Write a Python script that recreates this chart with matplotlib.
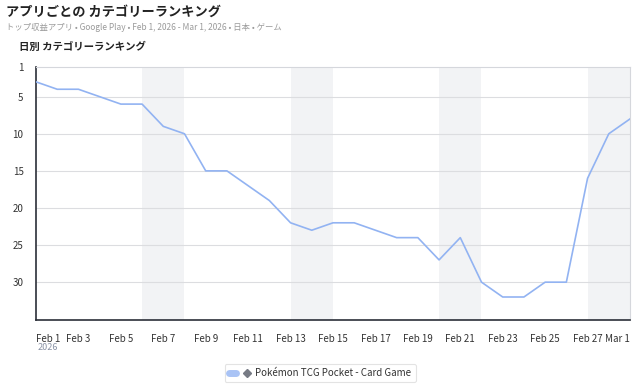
import matplotlib
matplotlib.use("Agg")
import matplotlib.pyplot as plt
from matplotlib.lines import Line2D
from matplotlib.legend_handler import HandlerTuple
import numpy as np

plt.rcParams['font.family'] = ['Noto Sans CJK JP', 'DejaVu Sans']

# Data
ranks = [3, 4, 4, 5, 6, 6, 9, 10, 15, 15, 17, 19, 22, 23, 22, 22, 23, 24, 24, 27,
         24, 30, 32, 32, 30, 30, 16, 10, 8]  # Feb 1 .. Mar 1
tick_idx = [0, 2, 4, 6, 8, 10, 12, 14, 16, 18, 20, 22, 24, 26, 28]
tick_labels = ["Feb 1", "Feb 3", "Feb 5", "Feb 7", "Feb 9", "Feb 11", "Feb 13", "Feb 15",
               "Feb 17", "Feb 19", "Feb 21", "Feb 23", "Feb 25", "Feb 27", "Mar 1"]
weekends = [(5, 7), (12, 14), (19, 21), (26, 28)]
y_ticks = [1, 5, 10, 15, 20, 25, 30]
series_name = "Pokémon TCG Pocket - Card Game"

line_color = "#92b3f2"
x = np.arange(len(ranks))

fig = plt.figure(figsize=(6.4, 3.84), dpi=100)
ax = fig.add_axes([36 / 640, 1 - 320 / 384, 594 / 640, 253 / 384])

for a, b in weekends:
    ax.axvspan(a, b, color="#f2f3f5", lw=0, zorder=0)

for yt in y_ticks[1:]:
    ax.axhline(yt, color="#dcdde0", lw=0.8, zorder=1)

ax.plot(x, ranks, color=line_color, lw=1.2, zorder=3)

ax.set_xlim(0, 28)
ax.set_ylim(35.1, 1)
ax.set_yticks(y_ticks)
ax.set_yticklabels([str(v) for v in y_ticks])
ax.set_xticks(tick_idx)
ax.set_xticklabels(tick_labels)
ax.tick_params(axis="both", length=0, labelsize=7, colors="#333333")
ax.tick_params(axis="x", pad=10)
ax.tick_params(axis="y", pad=9)
xl = ax.get_xticklabels()
xl[0].set_ha("left")
xl[-1].set_ha("right")

for side in ["top", "right"]:
    ax.spines[side].set_color("#d5d7dc")
    ax.spines[side].set_linewidth(0.8)
for side in ["left", "bottom"]:
    ax.spines[side].set_color("#2b2f38")
    ax.spines[side].set_linewidth(1.2)

fig.text(38 / 640, 1 - 348 / 384, "2026", fontsize=6.5, color="#8a93a6", ha="left", va="center")

# Titles
fig.text(6 / 640, 1 - 12 / 384, "アプリごとの カテゴリーランキング", fontsize=9.5,
         fontweight="bold", color="#222222", ha="left", va="center")
fig.text(6 / 640, 1 - 27 / 384,
         "トップ収益アプリ • Google Play • Feb 1, 2026 - Mar 1, 2026 • 日本 • ゲーム",
         fontsize=6, color="#9a9a9a", ha="left", va="center")
fig.text(19 / 640, 1 - 47 / 384, "日別 カテゴリーランキング", fontsize=7.5,
         fontweight="bold", color="#222222", ha="left", va="center")

# Legend
pill = Line2D([], [], color="#a9c3f5", lw=5, solid_capstyle="round")
diamond = Line2D([], [], color="#777b85", marker="D", markersize=4, lw=0)
leg = fig.legend([(pill, diamond)], [series_name],
                 handler_map={tuple: HandlerTuple(ndivide=None, pad=0.8)},
                 loc="center", bbox_to_anchor=(0.5, 1 - 373 / 384),
                 fontsize=7, frameon=True, handlelength=2.2, handletextpad=0.5,
                 borderpad=0.45, fancybox=True)
leg.get_frame().set_edgecolor("#dddddd")
leg.get_frame().set_linewidth(0.8)
for t in leg.get_texts():
    t.set_color("#333333")

fig.savefig("out.png", dpi=100)
